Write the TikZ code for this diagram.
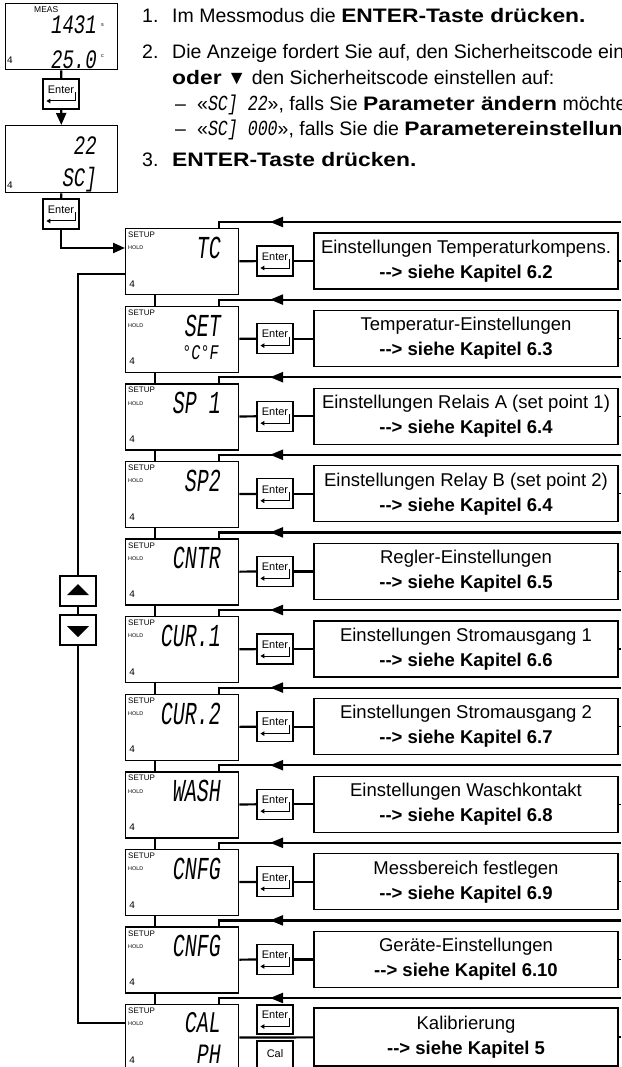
\documentclass[tikz,border=0pt]{standalone}
\usepackage{fontspec}
\setmainfont{Liberation Sans}
\newfontfamily\lcd{Liberation Mono}
\usetikzlibrary{arrows.meta,decorations.markings,calc}
\newcommand\lcdin[1]{{\lcd\itshape\scalebox{0.85}[1.1]{#1}}}
\newcommand\tbold[1]{\scalebox{1.17}[1]{\textbf{#1}}}
\begin{document}
\begin{tikzpicture}[x=1pt,y=-1pt,
 lcdbox/.style={draw, line width=1.3pt, minimum width=113pt, minimum height=66pt, inner sep=0pt, anchor=north west},
 keybox/.style={draw, line width=1.2pt, minimum width=36pt, minimum height=30pt, inner sep=0pt, text height=7.5pt, text depth=9pt, font=\fontsize{11}{11}\selectfont},
 btn/.style={draw, line width=1.2pt, minimum width=36pt, minimum height=30pt, inner sep=0pt},
 infobox/.style={draw, line width=1.3pt, minimum width=304pt, minimum height=56pt, inner sep=0pt, align=center, font=\fontsize{18.5}{25}\selectfont},
 conn/.style={line width=2.2pt},
 thinl/.style={line width=1.2pt},
 fb/.style={line width=2.2pt, postaction={decorate}, decoration={markings, mark=at position 351pt with {\arrow{Triangle[length=13pt,width=10pt]}}}},
 rtn/.style={line width=1pt, -{Triangle[length=4pt,width=4.5pt]}},
 lcdt/.style={inner sep=0pt, anchor=east, font=\lcd\itshape\fontsize{20}{20}\selectfont},
 lcds/.style={inner sep=0pt, anchor=east, font=\lcd\itshape\fontsize{19}{19}\selectfont},
 setup/.style={inner sep=0pt, anchor=west, font=\fontsize{8}{8}\selectfont},
 hold/.style={inner sep=0pt, anchor=west, font=\fontsize{5.4}{5.4}\selectfont},
 relay/.style={inner sep=0pt, font=\lcd\fontsize{10}{10}\selectfont},
 txt/.style={inner sep=0pt, anchor=base west, font=\fontsize{19.5}{23}\selectfont},
 arr/.style={-{Triangle[length=12pt,width=10pt]}}
]
\fill[white] (0,0) rectangle (621,1067);
\useasboundingbox (0,0) rectangle (621,1067);

% ---- top displays ----
\node[lcdbox, minimum width=112pt] (m1) at (5,3) {};
\node[setup, font=\fontsize{8.5}{8.5}\selectfont] (meas) at (34,10) {MEAS};
\node[lcds] (v1) at (97,25) {\scalebox{1.0}[1.4]{1431}};
\node[hold] (u1) at (101,25) {s};
\node[lcds] (v2) at (97,60) {\scalebox{1.0}[1.4]{25.0}};
\node[hold] (u2) at (101,56) {c};
\node[relay] (rm1) at (10,60) {4};
\node[keybox] (e1) at (61,94) {Enter};
\draw[rtn] ($(e1.east)+(-4,-2)$) -- ($(e1.east)+(-4,7)$) -- ($(e1.west)+(4,7)$);
\node[lcdbox, minimum width=112pt, minimum height=67pt] (m2) at (5,125) {};
\node[lcds] (v3) at (97,146) {\scalebox{1.0}[1.4]{22}};
\node[lcds] (v4) at (97,180) {\scalebox{1.0}[1.4]{SC]}};
\node[relay] (rm2) at (10,185) {4};
\node[keybox] (e2) at (61,214) {Enter};
\draw[rtn] ($(e2.east)+(-4,-2)$) -- ($(e2.east)+(-4,7)$) -- ($(e2.west)+(4,7)$);

% ---- instructions ----
\node[txt] (n1) at (142,23) {1.};
\node[txt] (t1) at (172,23) {Im Messmodus die \tbold{ENTER-Taste drücken.}};
\node[txt] (n2) at (142,59) {2.};
\node[txt] (t2) at (172,59) {Die Anzeige fordert Sie auf, den Sicherheitscode ein};
\node[txt] (t3) at (172,85) {\tbold{oder} ▼ den Sicherheitscode einstellen auf:};
\node[txt] (n4) at (175,111) {–};
\node[txt] (t4) at (197,111) {«\lcdin{SC] 22}», falls Sie \tbold{Parameter ändern} möchte};
\node[txt] (n5) at (175,136) {–};
\node[txt] (t5) at (197,136) {«\lcdin{SC] 000}», falls Sie die \tbold{Parametereinstellun}};
\node[txt] (n6) at (142,167) {3.};
\node[txt] (t6) at (172,167) {\tbold{ENTER-Taste drücken.}};

% ---- menu rows ----
\foreach \i/\ca/\ti/\ch in {
0/TC/Einstellungen Temperaturkompens./6.2,
1/SET/Temperatur-Einstellungen/6.3,
2/SP 1/Einstellungen Relais A (set point 1)/6.4,
3/SP2/Einstellungen Relay B (set point 2)/6.4,
4/CNTR/Regler-Einstellungen/6.5,
5/CUR.1/Einstellungen Stromausgang 1/6.6,
6/CUR.2/Einstellungen Stromausgang 2/6.7,
7/WASH/Einstellungen Waschkontakt/6.8,
8/CNFG/Messbereich festlegen/6.9,
9/CNFG/Geräte-Einstellungen/6.10}{
 \pgfmathsetmacro\T{228+77.6*\i}
 \node[lcdbox] (d\i) at (125,\T) {};
 \node[setup] (su\i) at (128,\T+7) {SETUP};
 \node[hold] (ho\i) at (128,\T+20) {HOLD};
 \node[relay] (re\i) at (132,\T+56) {4};
 \node[lcdt] (c\i) at (221,\T+20) {\scalebox{1.0}[1.6]{\ca}};
 \node[keybox] (k\i) at (275,\T+33) {Enter};
 \draw[rtn] ($(k\i.east)+(-4,-2)$) -- ($(k\i.east)+(-4,7)$) -- ($(k\i.west)+(4,7)$);
 \node[infobox] (b\i) at (466,\T+33) {\ti\\\textbf{-{}-> siehe Kapitel \ch}};
 \draw[conn] (d\i) -- (k\i);
 \draw[conn] (k\i) -- (b\i);
 \coordinate (s\i) at (621,\T+33);
 \draw[thinl] (b\i) -- (s\i);
 \coordinate (r\i) at (621,\T-6);
 \draw[fb] (r\i) -| ($(d\i.north east)+(-20,0)$);
}
\node[lcdt, font=\lcd\itshape\fontsize{16}{16}\selectfont] (c1b) at (219,353) {\scalebox{0.95}[1.3]{°C°F}};

% ---- CAL row ----
\node[lcdbox] (d10) at (125,1004) {};
\node[setup] (su10) at (128,1011) {SETUP};
\node[hold] (ho10) at (128,1024) {HOLD};
\node[relay] (re10) at (132,1060) {4};
\node[lcdt] (c10) at (221,1023) {\scalebox{1.0}[1.5]{CAL}};
\node[lcdt] (c10b) at (221,1054) {\scalebox{1.0}[1.4]{PH}};
\node[keybox, minimum height=29pt] (k10) at (275,1019.5) {Enter};
\draw[rtn] ($(k10.east)+(-4,-2)$) -- ($(k10.east)+(-4,7)$) -- ($(k10.west)+(4,7)$);
\node[keybox, text depth=4pt] (kc10) at (275,1056) {Cal};
\node[infobox, minimum height=58pt] (b10) at (466,1037) {Kalibrierung\\\textbf{-{}-> siehe Kapitel 5}};
\draw[conn] (d10) -- (b10);
\coordinate (s10) at (621,1037);
\draw[thinl] (b10) -- (s10);
\coordinate (r10) at (621,998);
\draw[fb] (r10) -| ($(d10.north east)+(-20,0)$);

% ---- vertical links between displays ----
\foreach \i in {0,...,9}{
 \pgfmathtruncatemacro\j{\i+1}
 \draw[thinl] ($(d\i.south west)+(30,0)$) -- ($(d\j.north west)+(30,0)$);
}

% ---- up/down loop ----
\node[btn] (up) at (78,591) {};
\fill ($(up.center)+(-11,4)$) -- ($(up.center)+(11,4)$) -- ($(up.center)+(0,-7)$) -- cycle;
\node[btn] (dn) at (78,630) {};
\fill ($(dn.center)+(-11,-4)$) -- ($(dn.center)+(11,-4)$) -- ($(dn.center)+(0,7)$) -- cycle;
\draw[thinl] ($(d0.north west)+(0,46)$) -| (up.north);
\draw[thinl] (up) -- (dn);
\draw[thinl] (dn.south) |- ($(d10.north west)+(0,19)$);

% ---- entry connectors ----
\draw[conn] (m1) -- (e1);
\draw[conn, arr] (e1) -- (m2);
\draw[conn] (m2) -- (e2);
\draw[conn, arr] (e2) |- ($(d0.north west)+(0,20)$);
\end{tikzpicture}
\end{document}
